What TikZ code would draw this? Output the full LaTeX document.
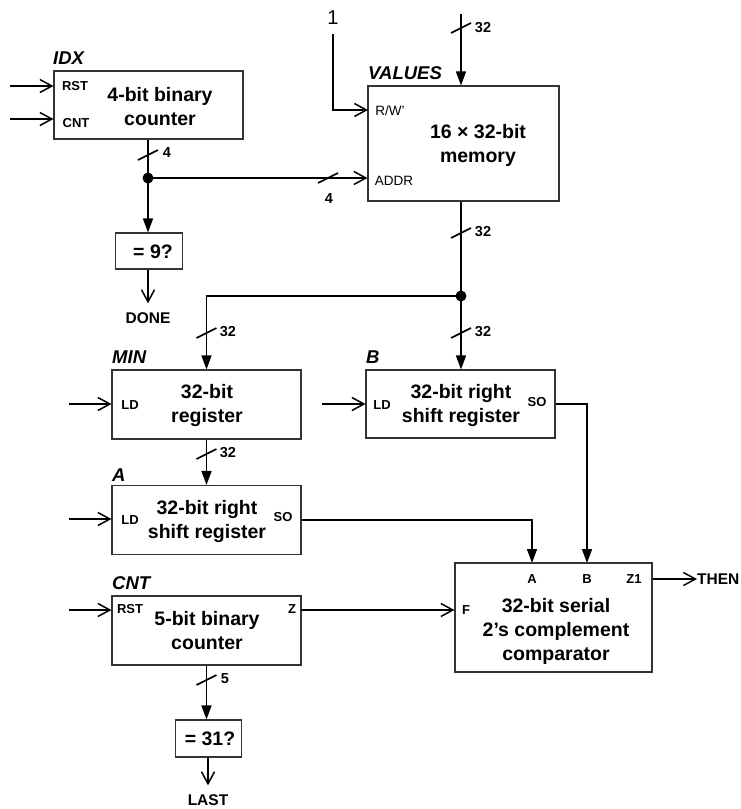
\documentclass[tikz,border=0pt]{standalone}
\usepackage{fontspec}
\setmainfont{Liberation Sans}
\usetikzlibrary{arrows.meta}
\begin{document}
\begin{tikzpicture}[x=1pt,y=-1pt,
  box/.style={draw=black!80, line width=1.1pt, inner sep=0pt},
  main/.style={font=\bfseries\fontsize{19.5}{24}\selectfont, align=center, inner sep=0pt},
  port/.style={font=\bfseries\fontsize{13}{14}\selectfont, inner sep=0pt},
  portr/.style={font=\fontsize{13.5}{14}\selectfont, inner sep=0pt},
  tag/.style={font=\bfseries\itshape\fontsize{18.5}{20}\selectfont, inner sep=0pt, anchor=west},
  busnum/.style={font=\bfseries\fontsize{14.5}{15}\selectfont, inner sep=0pt},
  sig/.style={font=\bfseries\fontsize{15.5}{17}\selectfont, inner sep=0pt},
  wire/.style={line width=1.6pt},
  bus/.style={wire, -{Triangle[length=14pt,width=10pt]}},
  ctl/.style={wire, -{Straight Barb[length=12pt,width=13pt,line width=1.5pt]}},
  dot/.style={circle, fill, inner sep=0pt, minimum size=11pt},
  slashmark/.pic={\draw[line width=1.6pt] (-10,5) -- (10,-5);}
]
\useasboundingbox (0,0) rectangle (741,809);

% ---------- IDX counter ----------
\node[box, minimum width=189pt, minimum height=68pt] (idx) at (148.5,105) {};
\node[main] (idxtxt) at (160,107) {4-bit binary\\counter};
\node[tag] (idxtag) at (53,58) {IDX};
\node[port] (idxrst) at (75,86) {RST};
\node[port] (idxcnt) at (76,123) {CNT};
\coordinate (idxrstin) at (10,86);
\coordinate (idxcntin) at (10,119);
\draw[ctl] (idxrstin) -- (idxrstin -| idx.west);
\draw[ctl] (idxcntin) -- (idxcntin -| idx.west);

% ---------- memory ----------
\node[box, minimum width=191pt, minimum height=115pt] (mem) at (463.5,143.5) {};
\node[main] (memtxt) at (478,145) {16 × 32-bit\\memory};
\node[tag] (memtag) at (368,73) {VALUES};
\node[portr] (memrw) at (390,111) {R/W'};
\node[portr] (memaddr) at (394,181) {ADDR};
\node[font=\fontsize{20}{22}\selectfont, inner sep=0pt] (one) at (333,18) {1};
\coordinate (rw) at (368,110);
\draw[ctl] ([yshift=-9pt]one.south) |- (rw);
\coordinate (memin) at (461,14);
\draw[bus] (memin) -- (memin |- mem.north);
\pic at (461,28) {slashmark};
\node[busnum] (n32a) at (483,28) {32};

% ---------- IDX output ----------
\node[dot] (j1) at (148,178) {};
\draw[wire] (idx.south -| j1) -- (j1.center);
\pic at (148,155) {slashmark};
\node[busnum] (n4a) at (167,153) {4};
\node[box, minimum width=67pt, minimum height=36pt] (eq9) at (149,251) {};
\node[main] (eq9txt) at (153,252) {= 9?};
\draw[bus] (j1.center) -- (j1.center |- eq9.north);
\draw[ctl] (j1.center) -- (j1.center -| mem.west);
\pic at (328,178) {slashmark};
\node[busnum] (n4b) at (329,199) {4};
\node[sig] (done) at (148,318) {DONE};
\draw[ctl] (eq9.south -| done) -- ([yshift=9pt]done.north);

% ---------- memory output ----------
\node[dot] (j2) at (461,296) {};
\draw[wire] (mem.south -| j2) -- (j2.center);
\pic at (461,233) {slashmark};
\node[busnum] (n32b) at (483,232) {32};

% ---------- MIN register ----------
\node[box, minimum width=189pt, minimum height=69pt] (minr) at (206.5,404.5) {};
\node[main] (mintxt) at (207,405) {32-bit\\register};
\node[tag] (mintag) at (112,357) {MIN};
\node[port] (minld) at (130,405) {LD};
\draw[bus] (j2.center) -| (minr.north);
\pic at (206.5,333) {slashmark};
\node[busnum] (n32c) at (228,332) {32};
\coordinate (minldin) at (69,404);
\draw[ctl] (minldin) -- (minldin -| minr.west);

% ---------- B register ----------
\node[box, minimum width=189pt, minimum height=68pt] (bsr) at (460.5,404) {};
\node[main] (btxt) at (461,405) {32-bit right\\shift register};
\node[tag] (btag) at (366,357) {B};
\node[port] (bld) at (382,405) {LD};
\node[port] (bso) at (537,402) {SO};
\draw[bus] (j2.center) -- (j2.center |- bsr.north);
\pic at (461,333) {slashmark};
\node[busnum] (n32d) at (483,332) {32};
\coordinate (bldin) at (322,404);
\draw[ctl] (bldin) -- (bldin -| bsr.west);

% ---------- A register ----------
\node[box, minimum width=189pt, minimum height=69pt] (asr) at (206.5,520) {};
\node[main] (atxt) at (207,521) {32-bit right\\shift register};
\node[tag] (atag) at (112,475) {A};
\node[port] (ald) at (130,520) {LD};
\node[port] (aso) at (283,517) {SO};
\draw[bus] (minr.south) -- (asr.north);
\pic at (206.5,454) {slashmark};
\node[busnum] (n32e) at (228,453) {32};
\coordinate (aldin) at (69,519);
\draw[ctl] (aldin) -- (aldin -| asr.west);

% ---------- comparator ----------
\node[box, minimum width=197pt, minimum height=109pt] (cmp) at (553.5,617.5) {};
\node[main] (cmptxt) at (556,631) {32-bit serial\\2’s complement\\comparator};
\node[port] (cmpa) at (532,579) {A};
\node[port] (cmpb) at (587,579) {B};
\node[port] (cmpz) at (634,579) {Z1};
\node[port] (cmpf) at (466,610) {F};
\coordinate (cmpA) at (532,563);
\coordinate (cmpB) at (587,563);
\draw[bus] (asr.east) -| (cmpA);
\draw[bus] (bsr.east) -| (cmpB);
\node[sig, anchor=west] (then) at (697,579) {THEN};
\draw[ctl] (cmp.east |- then) -- (then.west);

% ---------- CNT counter ----------
\node[box, minimum width=189pt, minimum height=69pt] (cnt) at (206.5,630.5) {};
\node[main] (cnttxt) at (207,631) {5-bit binary\\counter};
\node[tag] (cnttag) at (112,583) {CNT};
\node[port] (cntrst) at (130,609) {RST};
\node[port] (cntz) at (292,609) {Z};
\coordinate (cntrstin) at (69,610);
\draw[ctl] (cntrstin) -- (cntrstin -| cnt.west);
\coordinate (cntzout) at (301,610);
\draw[ctl] (cntzout) -- (cntzout -| cmp.west);
\node[box, minimum width=66pt, minimum height=37pt] (eq31) at (208.5,738.5) {};
\node[main] (eq31txt) at (210,739) {= 31?};
\draw[bus] (cnt.south) -- (cnt.south |- eq31.north);
\pic at (206.5,680) {slashmark};
\node[busnum] (n5) at (225,679) {5};
\node[sig] (last) at (208,800) {LAST};
\draw[ctl] (eq31.south -| last) -- ([yshift=9pt]last.north);
\end{tikzpicture}
\end{document}
